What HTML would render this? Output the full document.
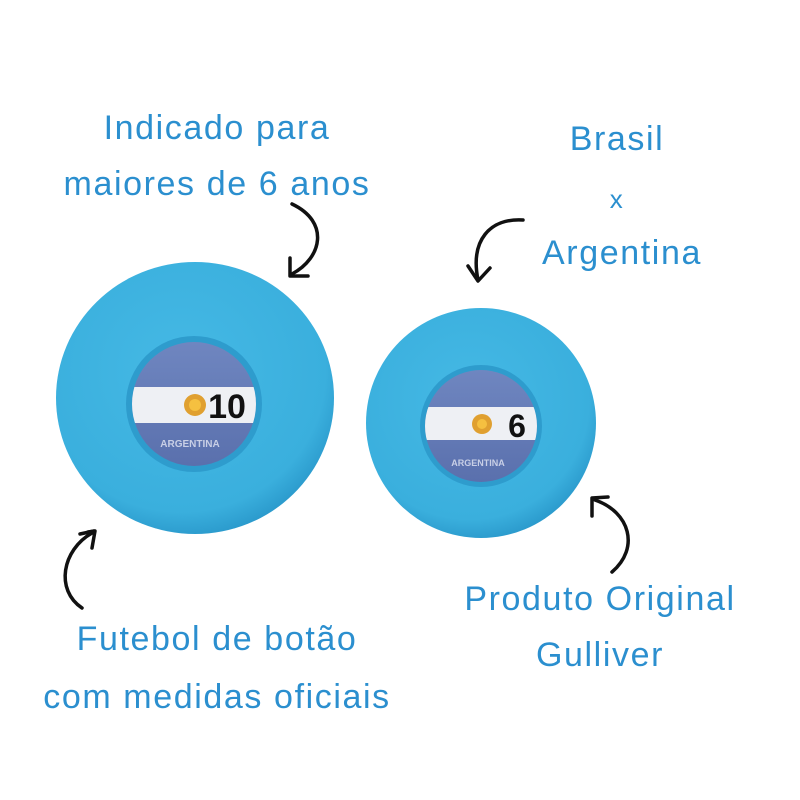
<!DOCTYPE html>
<html><head><meta charset="utf-8"><style>
html,body{margin:0;padding:0;background:#fff}
svg{display:block}
.t{font-family:"Liberation Sans",sans-serif;fill:#2b8fcf;font-size:34px;letter-spacing:1.6px;text-anchor:middle}
</style></head><body>
<svg width="800" height="800" viewBox="0 0 800 800" xmlns="http://www.w3.org/2000/svg">
<defs>
<radialGradient id="g1" cx="45%" cy="40%" r="65%"><stop offset="0" stop-color="#45b9e5"/><stop offset="0.8" stop-color="#3aafdd"/><stop offset="1" stop-color="#2592c6"/></radialGradient>
<linearGradient id="fl" x1="0" y1="0" x2="0" y2="1"><stop offset="0" stop-color="#6f86c0"/><stop offset="1" stop-color="#5a70ad"/></linearGradient>
<clipPath id="c1"><circle cx="194" cy="404" r="62"/></clipPath>
<clipPath id="c2"><circle cx="481" cy="426" r="56"/></clipPath>
</defs>
<ellipse cx="195" cy="398" rx="139" ry="136" fill="url(#g1)"/>
<circle cx="194" cy="404" r="68" fill="#2e9ccd"/>
<circle cx="194" cy="404" r="62" fill="url(#fl)"/>
<g clip-path="url(#c1)"><rect x="120" y="387" width="150" height="36" fill="#eef0f4"/></g>
<circle cx="195" cy="405" r="11" fill="#e0a030"/><circle cx="195" cy="405" r="6" fill="#f5c040"/>
<text x="227" y="418" font-family="Liberation Sans" font-weight="bold" font-size="34" text-anchor="middle" fill="#111">10</text>
<text x="190" y="447" font-family="Liberation Sans" font-weight="bold" font-size="10" text-anchor="middle" fill="#c8cfe6">ARGENTINA</text>
<circle cx="481" cy="423" r="115" fill="url(#g1)"/>
<circle cx="481" cy="426" r="61" fill="#2e9ccd"/>
<circle cx="481" cy="426" r="56" fill="url(#fl)"/>
<g clip-path="url(#c2)"><rect x="420" y="407" width="130" height="33" fill="#eef0f4"/></g>
<circle cx="482" cy="424" r="10" fill="#e0a030"/><circle cx="482" cy="424" r="5" fill="#f5c040"/>
<text x="517" y="437" font-family="Liberation Sans" font-weight="bold" font-size="32" text-anchor="middle" fill="#111">6</text>
<text x="478" y="466" font-family="Liberation Sans" font-weight="bold" font-size="9" text-anchor="middle" fill="#c8cfe6">ARGENTINA</text>
<text class="t" x="217" y="139">Indicado para</text>
<text class="t" x="217" y="195">maiores de 6 anos</text>
<text class="t" x="617" y="150">Brasil</text>
<text class="t" x="617" y="208" style="font-size:26px">x</text>
<text class="t" x="622" y="264">Argentina</text>
<text class="t" x="217" y="650">Futebol de botão</text>
<text class="t" x="217" y="708">com medidas oficiais</text>
<text class="t" x="600" y="610">Produto Original</text>
<text class="t" x="600" y="666">Gulliver</text>
<g fill="none" stroke="#111" stroke-width="3.5" stroke-linecap="round" stroke-linejoin="round">
<path d="M292 204 C330 222 322 258 292 274"/><path d="M290 258 L290 276 L308 276"/>
<path d="M523 220 C490 218 470 240 478 280"/><path d="M468 266 L478 281 L490 268"/>
<path d="M82 608 C55 590 62 550 92 533"/><path d="M88 532 L95 531 L92 548" /><path d="M80 534 L94 531"/>
<path d="M612 572 C640 548 630 512 595 500"/><path d="M592 516 L592 498 L608 497"/>
</g>
</svg>
</body></html>
